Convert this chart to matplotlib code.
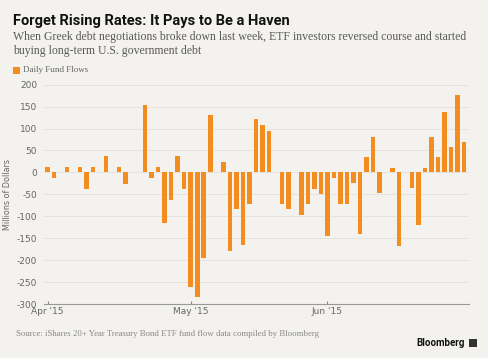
import numpy as np
import pandas as pd
import matplotlib
matplotlib.use("Agg")
import matplotlib.pyplot as plt
from matplotlib.patches import Rectangle

# daily fund flows, millions of dollars, one value per business day from Apr 1 2015
flows = [13, -12, 0, 12, 0, 12, -38, 12, 0, 38,
         0, 12, -27, 0, 0, 153, -12, 12, -116, -63,
         37, -38, -261, -283, -196, 132, 0, 24, -179, -84,
         -166, -71, 121, 108, 95, 0, -72, -84, 0, -98,
         -73, -37, -50, -146, -12, -71, -71, -24, -141, 35,
         80, -46, 0, 11, -167, 0, -35, -120, 11, 81,
         36, 138, 57, 176, 70]
start_date = "2015-04-01"
y_ticks = [200, 150, 100, 50, 0, -50, -100, -150, -200, -250, -300]

title = "Forget Rising Rates: It Pays to Be a Haven"
subtitle = ("When Greek debt negotiations broke down last week, ETF investors reversed course and started\n"
            "buying long-term U.S. government debt")
legend_label = "Daily Fund Flows"
y_label = "Millions of Dollars"
source = "Source: iShares 20+ Year Treasury Bond ETF fund flow data compiled by Bloomberg"

BG = "#f3f2ee"
ORANGE = "#f48d1f"
GRID = "#e4e3de"
TXT = "#666666"

dates = pd.bdate_range(start_date, periods=len(flows))
x = np.arange(len(flows))

fig = plt.figure(figsize=(4.88, 3.58), dpi=100, facecolor=BG)
W, H = 488, 358
ax = fig.add_axes([44 / W, 1 - 304 / H, (469 - 44) / W, (304 - 84.7) / H])
ax.set_facecolor(BG)

ax.bar(x, flows, width=0.7, color=ORANGE, zorder=3)

ax.set_ylim(-300, 200)
ax.set_xlim(-0.54, 64.75)
ax.set_yticks(y_ticks)
ax.set_yticklabels([str(v) for v in y_ticks], fontsize=6.5, color=TXT)
ax.yaxis.grid(True, color=GRID, linewidth=0.7, zorder=0)
ax.tick_params(axis="y", length=0, pad=5)

# month ticks at first business day of each month
month_idx = [i for i in range(len(dates)) if i == 0 or dates[i].month != dates[i - 1].month]
ax.set_xticks(month_idx)
ax.set_xticklabels([dates[i].strftime("%b '%y") for i in month_idx], fontsize=6.5, color=TXT)
ax.tick_params(axis="x", direction="in", length=2.5, color="#888888", pad=2)

for s in ["top", "right", "left"]:
    ax.spines[s].set_visible(False)
ax.spines["bottom"].set_color("#999999")
ax.spines["bottom"].set_linewidth(0.8)

ax.set_ylabel(y_label, fontsize=5.8, color=TXT, labelpad=3)

fig.text(13 / W, 1 - 21 / H, title, fontsize=10.5, fontweight="bold", color="#111111",
         va="center", ha="left", family="Roboto")
fig.text(13 / W, 1 - 44 / H, subtitle, fontsize=8.5, color="#5a5a5a", va="center", ha="left",
         family="Liberation Serif", linespacing=1.2)
fig.patches.append(Rectangle((13 / W, 1 - 73.5 / H), 7 / W, 7 / H, transform=fig.transFigure,
                             facecolor=ORANGE, edgecolor="none"))
fig.text(23 / W, 1 - 69.5 / H, legend_label, fontsize=6.5, color=TXT, va="center", ha="left",
         family="Liberation Serif")
fig.text(16 / W, 1 - 334 / H, source, fontsize=6.3, color="#888888", va="center", ha="left",
         family="Liberation Serif")
fig.text(465 / W, 1 - 343 / H, "Bloomberg", fontsize=7, fontweight="bold", color="#111111",
         va="center", ha="right", family="Roboto")
fig.patches.append(Rectangle((469 / W, 1 - 347 / H), 8 / W, 8 / H, transform=fig.transFigure,
                             facecolor="#333333", edgecolor="none"))

fig.savefig("out.png", dpi=100, facecolor=BG)
